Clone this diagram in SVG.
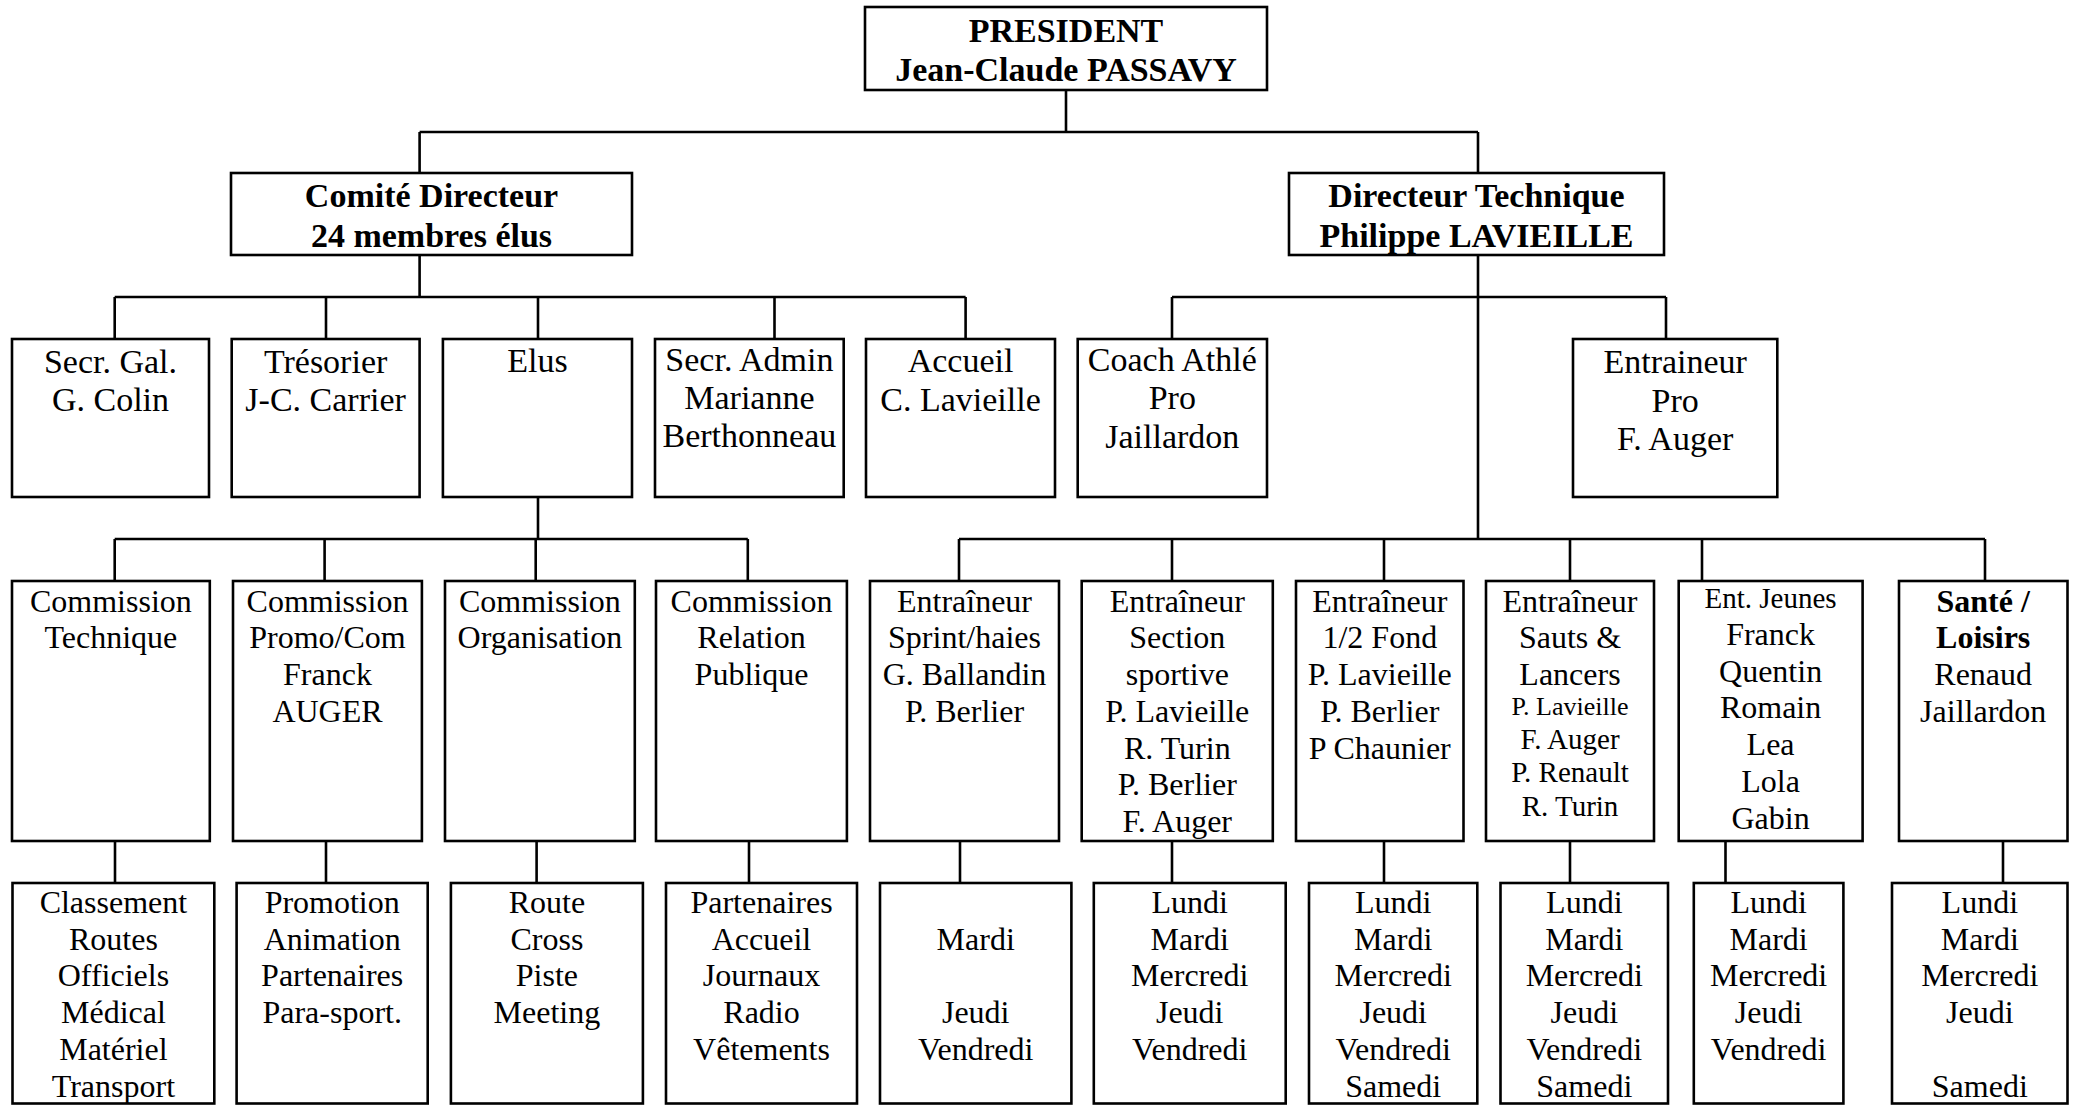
<svg xmlns="http://www.w3.org/2000/svg" width="2082" height="1105" viewBox="0 0 2082 1105">
<style>
.b{fill:#fff;stroke:#000;stroke-width:2.6}
.c{fill:none;stroke:#000;stroke-width:2.6}
text{font-family:"Liberation Serif","Times New Roman",serif;text-anchor:middle;fill:#000}
.h{font-size:34px;font-weight:bold}
.r2{font-size:34px}
.r3{font-size:32px}
.s29{font-size:29px}
.s26{font-size:26px}
.bd{font-weight:bold}
</style>
<rect x="0" y="0" width="2082" height="1105" fill="#fff"/>
<g id="connectors">
<path class="c" d="M1066,90V132M419.6,132H1478M419.6,132V173M1478,132V173"/>
<path class="c" d="M419.6,255V297M114.7,297H965.6M114.7,297V339M326,297V339M538,297V339M774.5,297V339M965.6,297V339"/>
<path class="c" d="M1478,255V539M1172,297H1666M1172,297V339M1666,297V339"/>
<path class="c" d="M538,497V539M114.7,539H747.8M114.7,539V581M324.6,539V581M535.7,539V581M747.8,539V581"/>
<path class="c" d="M959,539H1985M959,539V581M1172,539V581M1384,539V581M1570,539V581M1702,539V581M1985,539V581"/>
<path class="c" d="M115,841V883M326,841V883M536.6,841V883M749,841V883M960,841V883M1172,841V883M1384,841V883M1570,841V883M1725.5,841V883M2003,841V883"/>
</g>
<g id="president"><rect class="b" x="865" y="7" width="402" height="83"/><text class="h"><tspan x="1066" y="42">PRESIDENT</tspan><tspan x="1066" y="81">Jean-Claude PASSAVY</tspan></text></g>
<g id="comite"><rect class="b" x="231" y="173" width="401" height="82"/><text class="h"><tspan x="431.5" y="207">Comité Directeur</tspan><tspan x="431.5" y="246.5">24 membres élus</tspan></text></g>
<g id="directeur"><rect class="b" x="1289" y="173" width="375" height="82"/><text class="h"><tspan x="1476.5" y="207">Directeur Technique</tspan><tspan x="1476.5" y="246.5">Philippe LAVIEILLE</tspan></text></g>

<g id="secr-gal"><rect class="b" x="12" y="339" width="197" height="158"/><text class="r2"><tspan x="110.5" y="372.5">Secr. Gal.</tspan><tspan x="110.5" y="411">G. Colin</tspan></text></g>
<g id="tresorier"><rect class="b" x="231.7" y="339" width="187.9" height="158"/><text class="r2"><tspan x="325.6" y="372.5">Trésorier</tspan><tspan x="325.6" y="411">J-C. Carrier</tspan></text></g>
<g id="elus"><rect class="b" x="442.9" y="339" width="189.1" height="158"/><text class="r2"><tspan x="537.5" y="372">Elus</tspan></text></g>
<g id="secr-admin"><rect class="b" x="655" y="339" width="188.7" height="158"/><text class="r2"><tspan x="749.4" y="370.5">Secr. Admin</tspan><tspan x="749.4" y="408.5">Marianne</tspan><tspan x="749.4" y="447">Berthonneau</tspan></text></g>
<g id="accueil"><rect class="b" x="866" y="339" width="189" height="158"/><text class="r2"><tspan x="960.5" y="372">Accueil</tspan><tspan x="960.5" y="410.5">C. Lavieille</tspan></text></g>
<g id="coach"><rect class="b" x="1077.7" y="339" width="189.3" height="158"/><text class="r2"><tspan x="1172.3" y="370.5">Coach Athlé</tspan><tspan x="1172.3" y="409">Pro</tspan><tspan x="1172.3" y="448">Jaillardon</tspan></text></g>
<g id="entraineur-pro"><rect class="b" x="1573" y="339" width="204.3" height="158"/><text class="r2"><tspan x="1675.2" y="372.5">Entraineur</tspan><tspan x="1675.2" y="411.5">Pro</tspan><tspan x="1675.2" y="450">F. Auger</tspan></text></g>

<g id="com-technique"><rect class="b" x="12" y="581" width="197.8" height="260"/><text class="r3"><tspan x="110.9" y="611.7">Commission</tspan><tspan x="110.9" y="648.4">Technique</tspan></text></g>
<g id="com-promo"><rect class="b" x="233" y="581" width="188.9" height="260"/><text class="r3"><tspan x="327.5" y="611.7">Commission</tspan><tspan x="327.5" y="648.4">Promo/Com</tspan><tspan x="327.5" y="685.1">Franck</tspan><tspan x="327.5" y="721.8">AUGER</tspan></text></g>
<g id="com-organisation"><rect class="b" x="445" y="581" width="189.8" height="260"/><text class="r3"><tspan x="539.9" y="611.7">Commission</tspan><tspan x="539.9" y="648.4">Organisation</tspan></text></g>
<g id="com-relation"><rect class="b" x="656" y="581" width="190.9" height="260"/><text class="r3"><tspan x="751.5" y="611.7">Commission</tspan><tspan x="751.5" y="648.4">Relation</tspan><tspan x="751.5" y="685.1">Publique</tspan></text></g>
<g id="ent-sprint"><rect class="b" x="870" y="581" width="189" height="260"/><text class="r3"><tspan x="964.5" y="611.7">Entraîneur</tspan><tspan x="964.5" y="648.4">Sprint/haies</tspan><tspan x="964.5" y="685.1">G. Ballandin</tspan><tspan x="964.5" y="721.8">P. Berlier</tspan></text></g>
<g id="ent-section"><rect class="b" x="1081.7" y="581" width="191.1" height="260"/><text class="r3"><tspan x="1177.3" y="611.7">Entraîneur</tspan><tspan x="1177.3" y="648.4">Section</tspan><tspan x="1177.3" y="685.1">sportive</tspan><tspan x="1177.3" y="721.8">P. Lavieille</tspan><tspan x="1177.3" y="758.5">R. Turin</tspan><tspan x="1177.3" y="795.2">P. Berlier</tspan><tspan x="1177.3" y="831.9">F. Auger</tspan></text></g>
<g id="ent-fond"><rect class="b" x="1296" y="581" width="167.5" height="260"/><text class="r3"><tspan x="1379.8" y="611.7">Entraîneur</tspan><tspan x="1379.8" y="648.4">1/2 Fond</tspan><tspan x="1379.8" y="685.1">P. Lavieille</tspan><tspan x="1379.8" y="721.8">P. Berlier</tspan><tspan x="1379.8" y="758.5">P Chaunier</tspan></text></g>
<g id="ent-sauts"><rect class="b" x="1486" y="581" width="168" height="260"/><text class="r3"><tspan x="1570" y="611.7">Entraîneur</tspan><tspan x="1570" y="648.4">Sauts &amp;</tspan><tspan x="1570" y="685.1">Lancers</tspan></text><text class="s26" x="1570" y="715">P. Lavieille</text><text class="s29"><tspan x="1570" y="748.5">F. Auger</tspan><tspan x="1570" y="782">P. Renault</tspan><tspan x="1570" y="816">R. Turin</tspan></text></g>
<g id="ent-jeunes"><rect class="b" x="1678.7" y="581" width="183.9" height="260"/><text class="s29" x="1770.6" y="608">Ent. Jeunes</text><text class="r3"><tspan x="1770.6" y="645">Franck</tspan><tspan x="1770.6" y="681.7">Quentin</tspan><tspan x="1770.6" y="718.4">Romain</tspan><tspan x="1770.6" y="755.1">Lea</tspan><tspan x="1770.6" y="791.8">Lola</tspan><tspan x="1770.6" y="828.5">Gabin</tspan></text></g>
<g id="sante"><rect class="b" x="1899" y="581" width="168.5" height="260"/><text class="r3"><tspan class="bd" x="1983.2" y="611.7">Santé /</tspan><tspan class="bd" x="1983.2" y="648.4">Loisirs</tspan><tspan x="1983.2" y="685.1">Renaud</tspan><tspan x="1983.2" y="721.8">Jaillardon</tspan></text></g>

<g id="b-technique"><rect class="b" x="12.5" y="883" width="201.8" height="220.5"/><text class="r3"><tspan x="113.4" y="913">Classement</tspan><tspan x="113.4" y="949.7">Routes</tspan><tspan x="113.4" y="986.4">Officiels</tspan><tspan x="113.4" y="1023.1">Médical</tspan><tspan x="113.4" y="1059.8">Matériel</tspan><tspan x="113.4" y="1096.5">Transport</tspan></text></g>
<g id="b-promo"><rect class="b" x="236.6" y="883" width="191.1" height="220.5"/><text class="r3"><tspan x="332.2" y="913">Promotion</tspan><tspan x="332.2" y="949.7">Animation</tspan><tspan x="332.2" y="986.4">Partenaires</tspan><tspan x="332.2" y="1023.1">Para-sport.</tspan></text></g>
<g id="b-organisation"><rect class="b" x="450.9" y="883" width="192" height="220.5"/><text class="r3"><tspan x="546.9" y="913">Route</tspan><tspan x="546.9" y="949.7">Cross</tspan><tspan x="546.9" y="986.4">Piste</tspan><tspan x="546.9" y="1023.1">Meeting</tspan></text></g>
<g id="b-relation"><rect class="b" x="666" y="883" width="191" height="220.5"/><text class="r3"><tspan x="761.5" y="913">Partenaires</tspan><tspan x="761.5" y="949.7">Accueil</tspan><tspan x="761.5" y="986.4">Journaux</tspan><tspan x="761.5" y="1023.1">Radio</tspan><tspan x="761.5" y="1059.8">Vêtements</tspan></text></g>
<g id="b-sprint"><rect class="b" x="880" y="883" width="191.4" height="220.5"/><text class="r3"><tspan x="975.7" y="949.7">Mardi</tspan><tspan x="975.7" y="1023.1">Jeudi</tspan><tspan x="975.7" y="1059.8">Vendredi</tspan></text></g>
<g id="b-section"><rect class="b" x="1093.8" y="883" width="191.9" height="220.5"/><text class="r3"><tspan x="1189.7" y="913">Lundi</tspan><tspan x="1189.7" y="949.7">Mardi</tspan><tspan x="1189.7" y="986.4">Mercredi</tspan><tspan x="1189.7" y="1023.1">Jeudi</tspan><tspan x="1189.7" y="1059.8">Vendredi</tspan></text></g>
<g id="b-fond"><rect class="b" x="1309" y="883" width="168.3" height="220.5"/><text class="r3"><tspan x="1393.2" y="913">Lundi</tspan><tspan x="1393.2" y="949.7">Mardi</tspan><tspan x="1393.2" y="986.4">Mercredi</tspan><tspan x="1393.2" y="1023.1">Jeudi</tspan><tspan x="1393.2" y="1059.8">Vendredi</tspan><tspan x="1393.2" y="1096.5">Samedi</tspan></text></g>
<g id="b-sauts"><rect class="b" x="1500.5" y="883" width="167.5" height="220.5"/><text class="r3"><tspan x="1584.3" y="913">Lundi</tspan><tspan x="1584.3" y="949.7">Mardi</tspan><tspan x="1584.3" y="986.4">Mercredi</tspan><tspan x="1584.3" y="1023.1">Jeudi</tspan><tspan x="1584.3" y="1059.8">Vendredi</tspan><tspan x="1584.3" y="1096.5">Samedi</tspan></text></g>
<g id="b-jeunes"><rect class="b" x="1693.8" y="883" width="149.6" height="220.5"/><text class="r3"><tspan x="1768.6" y="913">Lundi</tspan><tspan x="1768.6" y="949.7">Mardi</tspan><tspan x="1768.6" y="986.4">Mercredi</tspan><tspan x="1768.6" y="1023.1">Jeudi</tspan><tspan x="1768.6" y="1059.8">Vendredi</tspan></text></g>
<g id="b-sante"><rect class="b" x="1892" y="883" width="175.5" height="220.5"/><text class="r3"><tspan x="1979.8" y="913">Lundi</tspan><tspan x="1979.8" y="949.7">Mardi</tspan><tspan x="1979.8" y="986.4">Mercredi</tspan><tspan x="1979.8" y="1023.1">Jeudi</tspan><tspan x="1979.8" y="1096.5">Samedi</tspan></text></g>
</svg>
